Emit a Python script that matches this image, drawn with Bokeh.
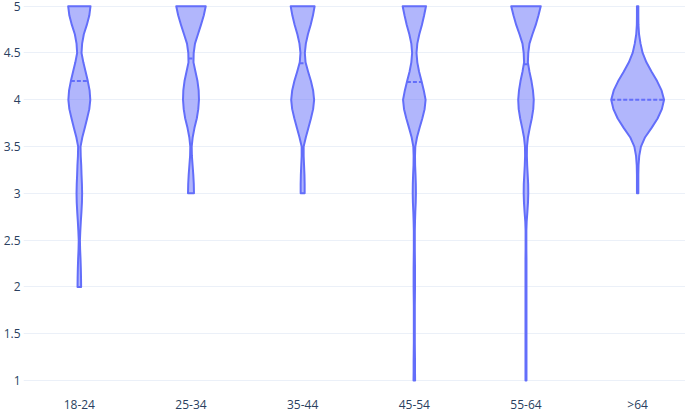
import numpy as np
from bokeh.plotting import figure
from bokeh.models import Range1d, FixedTicker, CustomJSTickFormatter
from bokeh.embed import file_html
from bokeh.resources import INLINE

# ---------------- data ----------------
CATEGORIES = ["18-24", "25-34", "35-44", "45-54", "55-64", ">64"]
SCORE_MIN = [2.0, 3.0, 3.0, 1.0, 1.0, 3.0]
SCORE_MAX = [5.0, 5.0, 5.0, 5.0, 5.0, 5.0]
MEANS = [4.20, 4.44, 4.39, 4.19, 4.38, 4.00]
Y_TICKS = [1, 1.5, 2, 2.5, 3, 3.5, 4, 4.5, 5]

# violin half-width profile (density units), from score 5.0 downwards in 0.1 steps
DENS_18_24 = [11.2, 10.0, 7.5, 4.5, 2.8, 2.2, 4.0, 6.3, 8.5, 10.3,
              11.0, 10.0, 7.8, 5.5, 3.0, 1.2, 1.4, 1.9, 2.2, 2.6,
              2.8, 2.6, 2.1, 1.5, 1.0, 0.6, 0.8, 1.2, 1.5, 1.7,
              1.8]
DENS_25_34 = [14.8, 12.8, 10.0, 7.0, 4.0, 2.7, 2.5, 4.5, 6.5, 7.7,
              8.0, 7.3, 5.8, 3.5, 1.7, 0.7, 0.9, 1.6, 2.3, 2.8,
              3.0]
DENS_35_44 = [12.0, 10.3, 8.0, 5.3, 3.2, 2.2, 2.9, 5.5, 8.3, 10.5,
              11.5, 10.5, 8.3, 5.8, 3.2, 1.0, 1.0, 1.4, 1.8, 2.0,
              2.0]
DENS_45_54 = [11.7, 9.8, 7.6, 5.0, 3.0, 2.2, 3.0, 4.8, 7.2, 9.5,
              11.3, 10.3, 8.0, 5.3, 2.7, 1.0, 0.7, 0.8, 1.2, 1.5,
              1.6, 1.4, 1.0, 0.7, 0.5, 0.5, 0.5, 0.6, 0.7, 0.7,
              0.7, 0.6, 0.5, 0.5, 0.5, 0.5, 0.5, 0.6, 0.7, 0.7,
              0.8]
DENS_55_64 = [14.8, 12.5, 9.8, 6.5, 3.5, 2.3, 1.9, 3.5, 5.5, 7.0,
              7.8, 7.3, 5.8, 3.8, 2.0, 1.0, 0.9, 1.2, 1.7, 2.2,
              2.3, 2.0, 1.4, 0.7, 0.4, 0.4, 0.4, 0.5, 0.5, 0.5,
              0.5, 0.5, 0.5, 0.5, 0.5, 0.5, 0.5, 0.5, 0.5, 0.5,
              0.5]
DENS_GT_64 = [0.7, 0.7, 0.8, 1.4, 2.9, 5.0, 8.8, 14.0, 19.5, 24.0,
              26.5, 24.3, 20.0, 14.0, 7.5, 3.3, 1.6, 0.9, 0.7, 0.7,
              0.7]
DENSITIES = [DENS_18_24, DENS_25_34, DENS_35_44, DENS_45_54, DENS_55_64, DENS_GT_64]

# ---------------- styling ----------------
COLOR = "#636efa"
TEXT_COLOR = "#2a3f5f"
GRID_COLOR = "#ebf0f8"
DENSITY_TO_X = 1.0 / 112.0   # density units -> category units

p = figure(width=685, height=415, output_backend="svg", toolbar_location=None,
           x_range=Range1d(-0.5, 5.4286), y_range=Range1d(0.936, 5.061),
           min_border_left=21, min_border_right=0, min_border_top=0, min_border_bottom=29)
p.outline_line_color = None
p.background_fill_color = "white"
p.border_fill_color = "white"

for i, (cat, dens, lo, hi, mean) in enumerate(zip(CATEGORIES, DENSITIES, SCORE_MIN, SCORE_MAX, MEANS)):
    levels = np.linspace(hi, lo, len(dens))
    hw = np.array(dens) * DENSITY_TO_X
    xs = list(i - hw) + list((i + hw)[::-1])
    ys = list(levels) + list(levels[::-1])
    p.patch(xs, ys, fill_color=COLOR, fill_alpha=0.5, line_color=COLOR, line_width=2,
            line_join="round")
    # mean line spans the violin's width at the mean
    mhw = float(np.interp(mean, levels[::-1], hw[::-1]))
    p.segment(x0=[i - mhw], y0=[mean], x1=[i + mhw], y1=[mean],
              line_color=COLOR, line_width=2, line_dash="4 2")

# axes
p.xaxis.ticker = FixedTicker(ticks=list(range(len(CATEGORIES))))
p.xaxis.formatter = CustomJSTickFormatter(args=dict(labels=CATEGORIES),
                                          code="const i = Math.round(tick); return (i >= 0 && i < labels.length) ? labels[i] : '';")
p.yaxis.ticker = FixedTicker(ticks=Y_TICKS)
p.yaxis.formatter = CustomJSTickFormatter(code="return tick.toString();")

for ax in (p.xaxis[0], p.yaxis[0]):
    ax.axis_line_color = None
    ax.major_tick_line_color = None
    ax.minor_tick_line_color = None
    ax.major_tick_out = 0
    ax.major_tick_in = 0
    ax.major_label_text_font = "Open Sans"
    ax.major_label_text_font_size = "12px"
    ax.major_label_text_color = TEXT_COLOR
p.yaxis.major_label_standoff = 3
p.xaxis.major_label_standoff = 9

p.xgrid.grid_line_color = None
p.ygrid.grid_line_color = GRID_COLOR
p.ygrid.grid_line_width = 1

open("out.html", "w").write(file_html(p, INLINE))
